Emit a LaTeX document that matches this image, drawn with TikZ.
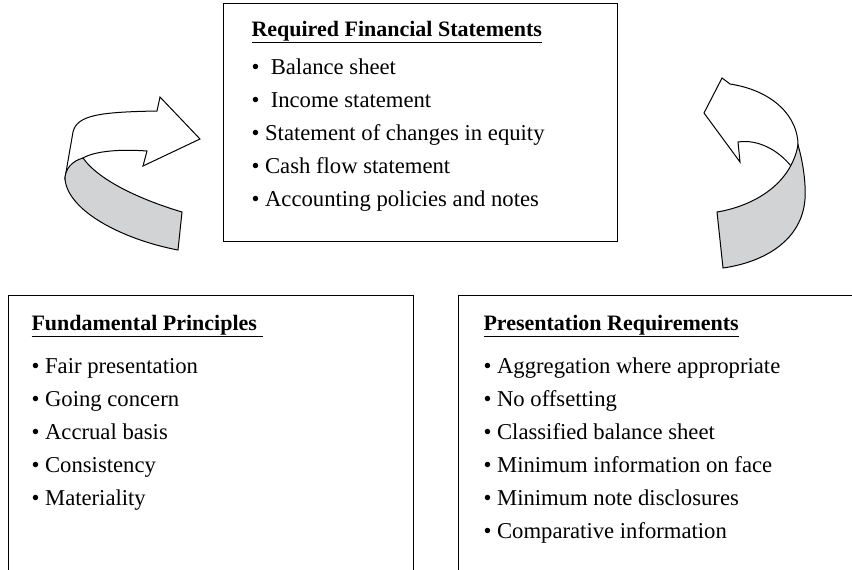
\documentclass[tikz,border=0pt]{standalone}
\usepackage{fontspec}
\setmainfont{Liberation Serif}
\definecolor{bandgray}{RGB}{210,211,213}

\tikzset{every picture/.style={line width=0.75pt}}
\tikzset{
  listtext/.style={anchor=base west,inner sep=0.75pt,font=\fontsize{17}{20}\selectfont},
  headtext/.style={listtext,font=\fontsize{16.5}{20}\selectfont\bfseries},
}

\begin{document}
\begin{tikzpicture}[x=0.75pt,y=0.75pt,yscale=-1,xscale=1]
    \useasboundingbox (0,0) rectangle (852,569);
    \clip (0,0) rectangle (852,569);
    %Shape: Rectangle [id:statements] 
    \draw   (223,3) rectangle (617,241) ;
    %Shape: Rectangle [id:principles] 
    \draw   (8,295) rectangle (413,600) ;
    %Shape: Rectangle [id:requirements] 
    \draw   (458,295) rectangle (880,600) ;
    %Curved Arrow (left) [id:arrowleft] 
    \draw  [fill=white] (65,178) -- (73,132) .. controls (77,115) and (100,112) .. (157,111) -- (160,97) -- (200,139) -- (143,166) -- (147,151) .. controls (120,149) and (95,151) .. (83,158) -- cycle ;
    \draw  [fill=bandgray] (83,158) .. controls (72,161) and (65,169) .. (65,179) .. controls (68,212) and (125,240) .. (178,250) -- (182,212) .. controls (145,201) and (100,182) .. (83,158) -- cycle ;
    %Curved Arrow (right) [id:arrowright] 
    \draw  [fill=white] (704,113) -- (722,78) -- (730,84) .. controls (775,91) and (798,118) .. (798,145) .. controls (797,155) and (795,161) .. (791,166) .. controls (778,150) and (758,139) .. (738,142) -- (740,162) -- cycle ;
    \draw  [fill=bandgray] (798,145) .. controls (803,162) and (806,183) .. (805,199) .. controls (802,240) and (765,262) .. (723,268) -- (717,212) .. controls (748,207) and (790,188) .. (798,145) -- cycle ;
    % Text Node
    \draw (250,36) node [headtext] (fshead) {\underline{Required Financial Statements}};
    % Text Node
    \draw (250,74) node [listtext] (fs1) {\textbullet\ \ Balance sheet};
    % Text Node
    \draw (250,107) node [listtext] (fs2) {\textbullet\ \ Income statement};
    % Text Node
    \draw (250,140) node [listtext] (fs3) {\textbullet\ Statement of changes in equity};
    % Text Node
    \draw (250,173) node [listtext] (fs4) {\textbullet\ Cash flow statement};
    % Text Node
    \draw (250,206) node [listtext] (fs5) {\textbullet\ Accounting policies and notes};
    % Text Node
    \draw (30,330) node [headtext] (fphead) {\underline{Fundamental Principles\ }};
    % Text Node
    \draw (30,373) node [listtext] (fp1) {\textbullet\ Fair presentation};
    % Text Node
    \draw (30,406) node [listtext] (fp2) {\textbullet\ Going concern};
    % Text Node
    \draw (30,439) node [listtext] (fp3) {\textbullet\ Accrual basis};
    % Text Node
    \draw (30,472) node [listtext] (fp4) {\textbullet\ Consistency};
    % Text Node
    \draw (30,505) node [listtext] (fp5) {\textbullet\ Materiality};
    % Text Node
    \draw (482,330) node [headtext] (prhead) {\underline{Presentation Requirements}};
    % Text Node
    \draw (482,373) node [listtext] (pr1) {\textbullet\ Aggregation where appropriate};
    % Text Node
    \draw (482,406) node [listtext] (pr2) {\textbullet\ No offsetting};
    % Text Node
    \draw (482,439) node [listtext] (pr3) {\textbullet\ Classified balance sheet};
    % Text Node
    \draw (482,472) node [listtext] (pr4) {\textbullet\ Minimum information on face};
    % Text Node
    \draw (482,505) node [listtext] (pr5) {\textbullet\ Minimum note disclosures};
    % Text Node
    \draw (482,538) node [listtext] (pr6) {\textbullet\ Comparative information};
\end{tikzpicture}
\end{document}
